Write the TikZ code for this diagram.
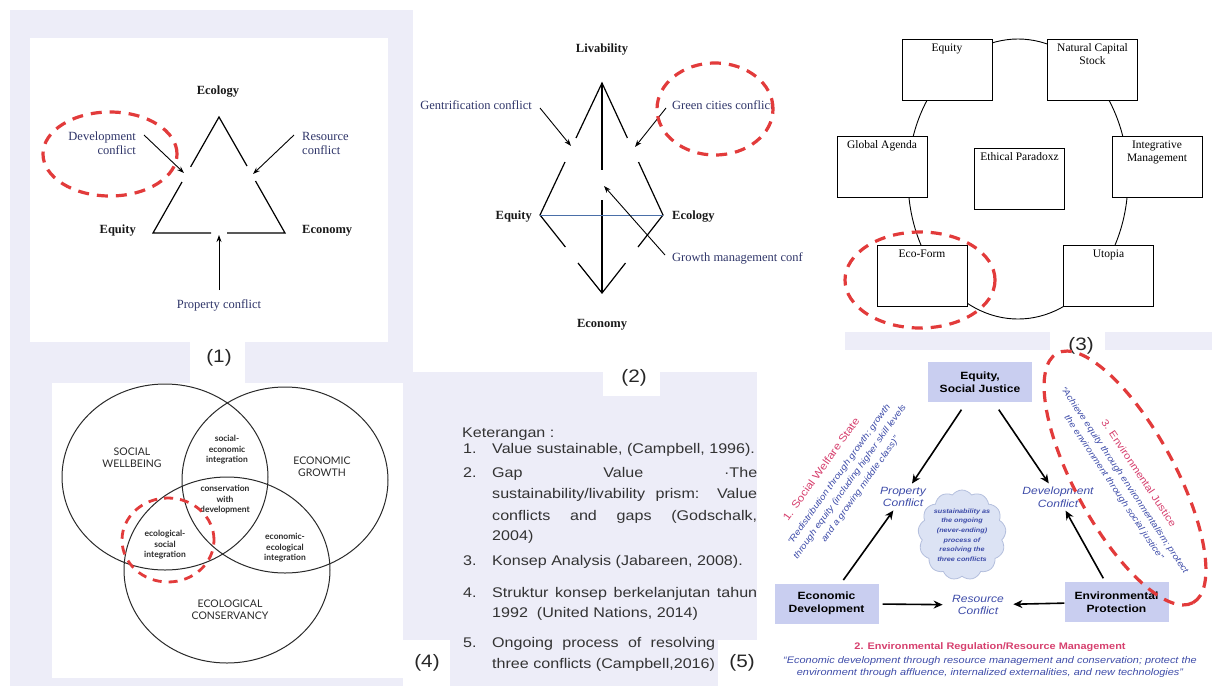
\documentclass[tikz,border=0pt]{standalone}
\usepackage{fontspec}
\setmainfont{Liberation Serif}
\setsansfont{Liberation Sans}[FakeStretch=1.15]
\newfontfamily\vennfont{Lato}
\usetikzlibrary{arrows.meta, shapes.symbols, positioning}

\definecolor{lav}{HTML}{EDEDF8}
\definecolor{navy}{HTML}{2E3468}
\definecolor{redmark}{HTML}{E23B3B}
\definecolor{prismBlue}{HTML}{4A6FA8}
\definecolor{boxFill}{HTML}{C9CEF0}
\definecolor{pinkInk}{HTML}{D6406E}
\definecolor{blueInk}{HTML}{3D4BA8}
\definecolor{cloudFill}{HTML}{DCE3F4}
\definecolor{cloudEdge}{HTML}{B4BFDD}
\definecolor{legInk}{HTML}{333333}
\definecolor{vennInk}{HTML}{2A2A2A}

\tikzset{
  redLoop/.style = {draw=redmark, line width=3.2pt, dash pattern=on 11pt off 8pt},
  prismLine/.style = {line width=1.2pt},
  thinArr/.style = {-{Stealth[length=7pt,width=5pt]}, line width=0.9pt},
  fatArr/.style = {-{Stealth[length=9pt,width=8pt]}, line width=1.6pt},
  serifLabel/.style = {text=navy, font=\fontsize{12.5}{14}\selectfont, inner sep=0pt},
  cornerLabel/.style = {text=black!90, font=\bfseries\fontsize{12.5}{14}\selectfont, inner sep=0pt},
  capBox/.style = {draw, fill=white, line width=0.9pt, minimum width=90pt, minimum height=61pt},
  capText/.style = {anchor=north, align=center, font=\fontsize{11.5}{13}\selectfont, inner sep=5pt},
  vennRing/.style = {draw=vennInk, line width=1pt},
  vennCap/.style = {align=center, text=vennInk, font=\vennfont\fontsize{10.5}{12}\selectfont},
  vennSub/.style = {align=center, text=vennInk, font=\vennfont\bfseries\fontsize{8.5}{10.5}\selectfont},
  legText/.style = {anchor=base west, inner sep=0pt, text=legInk, font=\sffamily\fontsize{14}{17}\selectfont},
  panelTag/.style = {text=black!85, font=\sffamily\fontsize{18}{18}\selectfont},
  esBox/.style = {fill=boxFill, minimum width=104pt, minimum height=40pt, align=center,
    font=\sffamily\bfseries\fontsize{10.5}{12.5}\selectfont},
  conflictText/.style = {align=center, text=blueInk, font=\sffamily\itshape\fontsize{10.5}{12.5}\selectfont},
  pinkHead/.style = {text=pinkInk, inner sep=0pt, font=\sffamily\fontsize{10}{12}\selectfont},
  blueQuote/.style = {align=center, text=blueInk, inner sep=0pt, font=\sffamily\itshape\fontsize{8.7}{13}\selectfont},
}

\begin{document}
\begin{tikzpicture}[x=1pt, y=-1pt]
\useasboundingbox (0,0) rectangle (1212,689);

% backgrounds
\fill[lav] (10,10) rectangle (413,686);
\fill[lav] (413,372) rectangle (757,686);
\fill[lav] (845,332) rectangle (1212,350);
\fill[white] (30,38) rectangle (388,342);
\fill[white] (190,342) rectangle (245,384);
\fill[white] (52,383) rectangle (403,678);
\fill[white] (603,358) rectangle (660,396);
\fill[white] (403,640) rectangle (450,689);
\fill[white] (718,640) rectangle (760,689);
\fill[white] (1050,330) rectangle (1105,352);

% (1) value triangle
\node[cornerLabel] (ecoT) at (218,92) {Ecology};
\node[cornerLabel, anchor=east] (equT) at (136,231) {Equity};
\node[cornerLabel, anchor=west] (econT) at (302,231) {Economy};
\node[serifLabel, anchor=east, align=right] (devC) at (136,143) {Development\\conflict};
\node[serifLabel, anchor=west, align=left] (resC) at (302,143) {Resource\\conflict};
\node[serifLabel] (propC) at (219,305) {Property conflict};
\draw[prismLine] (190.6,166.9) -- (219,117) -- (247,166);
\draw[prismLine] (182,182) -- (153,233) -- (211,233);
\draw[prismLine] (255.5,181) -- (285,233) -- (227,233);
\coordinate (devTail) at (144,135);
\coordinate (devTip) at (184,173);
\coordinate (resTail) at (294,135);
\coordinate (resTip) at (253,174);
\coordinate (propTail) at (219,290);
\coordinate (propTip) at (219,235);
\draw[thinArr] (devTail) -- (devTip);
\draw[thinArr] (resTail) -- (resTip);
\draw[thinArr] (propTail) -- (propTip);
\draw[redLoop] (110,154) ellipse [x radius=67pt, y radius=42pt];
\node[panelTag] (tag1) at (219,358) {(1)};

% (2) prism
\node[cornerLabel] (livT) at (602,50) {Livability};
\node[cornerLabel, anchor=east] (equT2) at (532,217) {Equity};
\node[cornerLabel, anchor=west] (ecoT2) at (672,217) {Ecology};
\node[cornerLabel] (econT2) at (602,325) {Economy};
\node[serifLabel, anchor=east] (gentC) at (532,105) {Gentrification conflict};
\node[serifLabel, anchor=west] (greenC) at (672,105) {Green cities conflict};
\node[serifLabel, anchor=west] (growC) at (672,258) {Growth management conf};
\draw[prismLine] (576,138) -- (602,83) -- (627.4,138);
\draw[prismLine] (565,162) -- (540,215) -- (565.4,247);
\draw[prismLine] (638.5,162) -- (663,215) -- (638,247);
\draw[prismLine] (578,263) -- (602,293) -- (625.5,263);
\draw[prismLine] (602,83) -- (602,170);
\draw[prismLine] (602,200) -- (602,293);
\draw[prismBlue, line width=1pt] (540,215) -- (663,215);
\coordinate (gentTail) at (540,108);
\coordinate (gentTip) at (571,146);
\coordinate (greenTail) at (666,108);
\coordinate (greenTip) at (635,147);
\coordinate (growTail) at (665,255);
\coordinate (growTip) at (604,186);
\draw[thinArr] (gentTail) -- (gentTip);
\draw[thinArr] (greenTail) -- (greenTip);
\draw[thinArr] (growTail) -- (growTip);
\draw[redLoop] (715,109) ellipse [x radius=58pt, y radius=46pt];
\node[panelTag] (tag2) at (634,378) {(2)};

% (3) concept ring
\draw[line width=0.9pt] (1018,179) ellipse [x radius=110pt, y radius=140pt];
\node[capBox, label={[capText, name=capEq]north:Equity}] (boxEq) at (947,69.5) {};
\node[capBox, label={[capText, name=capNat]north:Natural Capital\\Stock}] (boxNat) at (1092.5,69.5) {};
\node[capBox, label={[capText, name=capGlob]north:Global Agenda}] (boxGlob) at (882,166.5) {};
\node[capBox, label={[capText, name=capEth]north:Ethical Paradoxz}] (boxEth) at (1019.5,178.5) {};
\node[capBox, label={[capText, name=capInt]north:Integrative\\Management}] (boxInt) at (1157,166.5) {};
\node[capBox, label={[capText, name=capEco]north:Eco-Form}] (boxEco) at (922,276) {};
\node[capBox, label={[capText, name=capUto]north:Utopia}] (boxUto) at (1108.5,276) {};
\draw[redLoop] (920,280) ellipse [x radius=75pt, y radius=48pt];
\node[panelTag] (tag3) at (1081,346) {(3)};

% (4) venn
\draw[vennRing] (165,477) ellipse [x radius=103pt, y radius=93pt];
\draw[vennRing] (285,480) ellipse [x radius=103pt, y radius=93pt];
\draw[vennRing] (227,570) ellipse [x radius=103pt, y radius=93pt];
\node[vennCap] (socW) at (132,458) {SOCIAL\\WELLBEING};
\node[vennCap] (ecoG) at (322,467) {ECONOMIC\\GROWTH};
\node[vennCap] (ecoC) at (230,610) {ECOLOGICAL\\CONSERVANCY};
\node[vennSub] (socEco) at (227,450) {social-\\economic\\integration};
\node[vennSub] (consDev) at (225,500) {conservation\\with\\development};
\node[vennSub] (ecoSoc) at (165,545) {ecological-\\social\\integration};
\node[vennSub] (ecoEco) at (285,548) {economic-\\ecological\\integration};
\draw[redLoop, line width=2.8pt, dash pattern=on 9pt off 7pt] (168,540) ellipse [x radius=46pt, y radius=42pt];
\node[panelTag] (tag4) at (427,663) {(4)};

% legend
\node[legText] (ket) at (462,437) {Keterangan :};
\node[legText] (n1) at (463,453) {1.};
\node[legText] (t1) at (492,453) {Value sustainable, (Campbell, 1996).};
\node[legText] (n2) at (463,477) {2.};
\node[legText] (t2a) at (492,477) {\makebox[265pt][s]{Gap Value ·The}};
\node[legText] (t2b) at (492,498) {\makebox[265pt][s]{sustainability/livability prism: Value}};
\node[legText] (t2c) at (492,520) {\makebox[265pt][s]{conflicts and gaps (Godschalk,}};
\node[legText] (t2d) at (492,540) {2004)};
\node[legText] (n3) at (463,565) {3.};
\node[legText] (t3) at (492,565) {Konsep Analysis (Jabareen, 2008).};
\node[legText] (n4) at (463,597) {4.};
\node[legText] (t4a) at (492,597) {\makebox[265pt][s]{Struktur konsep berkelanjutan tahun}};
\node[legText] (t4b) at (492,617) {1992\ \ (United Nations, 2014)};
\node[legText] (n5) at (463,647) {5.};
\node[legText] (t5a) at (492,647) {\makebox[223pt][s]{Ongoing process of resolving}};
\node[legText] (t5b) at (492,668) {three conflicts (Campbell,2016)};
\node[panelTag] (tag5) at (742,663) {(5)};

% (5) three conflicts
\node[esBox] (esj) at (980,382) {Equity,\\Social Justice};
\node[esBox] (ecd) at (826.5,603.5) {Economic\\Development};
\node[esBox] (env) at (1116.5,602) {Environmental\\Protection};
\node[conflictText] (prop) at (903,497) {Property\\Conflict};
\node[conflictText] (devc) at (1058,497) {Development\\Conflict};
\node[conflictText] (resc) at (978,605) {Resource\\Conflict};
\node[cloud, cloud puffs=13, cloud puff arc=110, aspect=0.95, draw=cloudEdge, fill=cloudFill,
  line width=0.8pt, inner sep=-3pt, minimum width=88pt, minimum height=90pt, align=center, text=blueInk,
  font=\sffamily\bfseries\itshape\fontsize{6.3}{9.6}\selectfont] (ongo) at (962,535)
  {sustainability as\\the ongoing\\(never-ending)\\process of\\resolving the\\three conflicts};
\draw[fatArr, shorten <=9pt] (esj) -- (prop);
\draw[fatArr, shorten <=9pt] (esj) -- (devc);
\draw[fatArr, shorten <=4pt] (ecd) -- (prop);
\draw[fatArr, shorten <=4pt] (env) -- (devc);
\draw[fatArr, shorten <=4pt, shorten >=6pt] (ecd) -- (resc);
\draw[fatArr, shorten >=6pt] (env) -- (resc);
\node[pinkHead, font=\sffamily\fontsize{10.5}{12}\selectfont, rotate=54.5] (wsHead) at (821,469) {1. Social Welfare State};
\node[blueQuote, rotate=54.5] (wsQuote) at (850,482) {“Redistribution through growth; growth\\through equity (including higher skill levels\\and a growing middle class)”};
\node[pinkHead, rotate=-56.3] (ejHead) at (1139,473) {3. Environmental Justice};
\node[blueQuote, rotate=-56.3] (ejQuote) at (1119,484) {“Achieve equity through environmentalism; protect\\the environment through social justice”};
\node[pinkHead, font=\sffamily\bfseries\fontsize{9.5}{11}\selectfont] (erHead) at (990,647) {2. Environmental Regulation/Resource Management};
\node[blueQuote, font=\sffamily\itshape\fontsize{9.5}{12}\selectfont] (erQuote) at (990,667) {“Economic development through resource management and conservation; protect the\\environment through affluence, internalized externalities, and new technologies”};
\draw[redLoop, rotate around={-61.4:(1125,478)}] (1125,478) ellipse [x radius=142pt, y radius=50pt];

\end{tikzpicture}
\end{document}
